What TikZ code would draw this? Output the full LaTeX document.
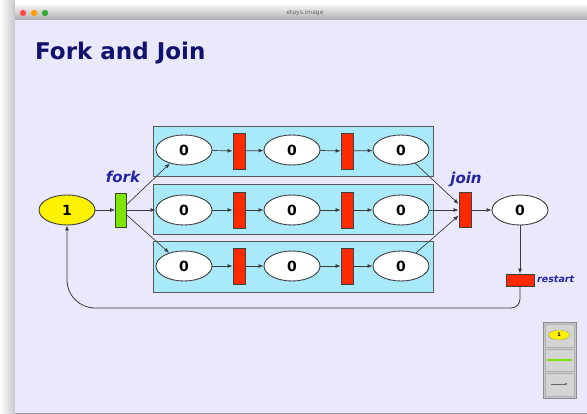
\documentclass[tikz,border=0pt]{standalone}
\usepackage{fontspec}
\setmainfont{DejaVu Sans}
\usetikzlibrary{shapes.geometric,arrows.meta}
\definecolor{winbg}{HTML}{E9E9FB}
\definecolor{boxcyan}{HTML}{A8E9FA}
\definecolor{titleblue}{HTML}{12126E}
\definecolor{labelblue}{HTML}{2424A4}
\definecolor{trred}{HTML}{FF2A00}
\definecolor{trgreen}{HTML}{7CE600}
\definecolor{linegray}{HTML}{3C3C3C}

\begin{document}
\begin{tikzpicture}[x=1pt,y=-1pt,>={Latex[length=5pt,width=4pt]}]
			\tikzstyle{every edge}=[draw,color=linegray,line width=0.7pt]
			\tikzstyle{place}=[ellipse,draw=black!75,line width=0.9pt,fill=white,inner sep=0pt,minimum width=56pt,minimum height=30pt,font=\fontsize{14}{16}\selectfont\bfseries]
			\tikzstyle{trans}=[rectangle,draw=black!75,line width=0.8pt,fill=trred,inner sep=0pt,minimum width=12pt,minimum height=36pt]
			\tikzstyle{lane}=[draw=black!65,fill=boxcyan,line width=0.9pt]
			\tikzstyle{tag}=[color=labelblue,font=\fontsize{15}{17}\selectfont\bfseries\itshape]

			\useasboundingbox (0,0) rectangle (587,414);
			\shade[left color=white, right color=black!22] (0,0) rectangle (15,414);
			\fill[white] (15,0) rectangle (587,6);
			\shade[top color=black!6, bottom color=black!32] (15,6) rectangle (587,20);
			\fill[winbg] (15,20) rectangle (587,413);
			\draw[black!40] (15,413) -- (587,413);
			\fill[red!70] (23,13) circle (3.2);
			\fill[orange!75!yellow] (34,13) circle (3.2);
			\fill[green!60!black!80] (45,13) circle (3.2);
			\node (wintitle) at (305,13) [color=black!60,font=\fontsize{6}{7}\selectfont] {etoys.image};

			\node (title) at (35,60) [anchor=base west,inner sep=0pt,color=titleblue,font=\fontsize{23}{27}\selectfont\bfseries] {Fork and Join};

			\draw[lane] (153,126) rectangle (433,176);
			\draw[lane] (153,184) rectangle (433,234);
			\draw[lane] (153,241) rectangle (433,292);

			\node (one) at (67,210) [place,fill=yellow] {1};
			\node (fork) at (121,210) [trans,fill=trgreen,minimum width=11pt,minimum height=34pt] {};
			\node (forklabel) at (123,177) [tag] {fork};

			\node (p11) at (184,150) [place] {0};
			\node (t11) at (239,151) [trans] {};
			\node (p12) at (292,150) [place] {0};
			\node (t12) at (347,151) [trans] {};
			\node (p13) at (401,150) [place] {0};

			\node (p21) at (184,210) [place] {0};
			\node (t21) at (239,210) [trans] {};
			\node (p22) at (292,210) [place] {0};
			\node (t22) at (347,210) [trans] {};
			\node (p23) at (401,210) [place] {0};

			\node (p31) at (184,266) [place] {0};
			\node (t31) at (239,266) [trans] {};
			\node (p32) at (292,266) [place] {0};
			\node (t32) at (347,266) [trans] {};
			\node (p33) at (401,266) [place] {0};

			\node (join) at (465,210) [trans,minimum height=35pt] {};
			\node (joinlabel) at (466,179) [tag] {join};
			\node (out) at (520,210) [place] {0};
			\node (restart) at (520,280) [trans,minimum width=28pt,minimum height=12pt] {};
			\node (restartlabel) at (537,279) [anchor=west,inner sep=0pt,tag,font=\fontsize{9.5}{11}\selectfont\bfseries\itshape] {restart};

			\path [->] (one) edge (fork);
			\path [->] (fork) edge (p11);
			\path [->] (fork) edge (p21);
			\path [->] (fork) edge (p31);

			\path [->] (p11) edge (t11);
			\path [->] (t11) edge (p12);
			\path [->] (p12) edge (t12);
			\path [->] (t12) edge (p13);
			\path [->] (p21) edge (t21);
			\path [->] (t21) edge (p22);
			\path [->] (p22) edge (t22);
			\path [->] (t22) edge (p23);
			\path [->] (p31) edge (t31);
			\path [->] (t31) edge (p32);
			\path [->] (p32) edge (t32);
			\path [->] (t32) edge (p33);

			\path [->] (p13) edge (join);
			\path [->] (p23) edge (join);
			\path [->] (p33) edge (join);
			\path [->] (join) edge (out);
			\path [->] (out) edge (restart);
			\draw [->,color=linegray,line width=0.8pt] (restart.south) [rounded corners=9pt] |- (300,308) [rounded corners=28pt] -| (one.south);

			\draw[black!45,fill=black!22] (543,322) rectangle (576,398);
			\draw[black!30,fill=black!17] (545,324) rectangle (574,347);
			\draw[black!30,fill=black!17] (545,349) rectangle (574,371);
			\draw[black!30,fill=black!17] (545,373) rectangle (574,396);
			\node (mini) at (559,335) [ellipse,draw=black!40,fill=yellow,inner sep=0pt,minimum width=21pt,minimum height=10pt,font=\fontsize{5}{6}\selectfont\bfseries] {1};
			\draw[trgreen,line width=2pt] (547,360) -- (572,360);
			\draw[->,black!60,line width=0.6pt,>={Latex[length=3pt,width=2.5pt]}] (551,384) -- (568,384);
		\end{tikzpicture}
\end{document}
